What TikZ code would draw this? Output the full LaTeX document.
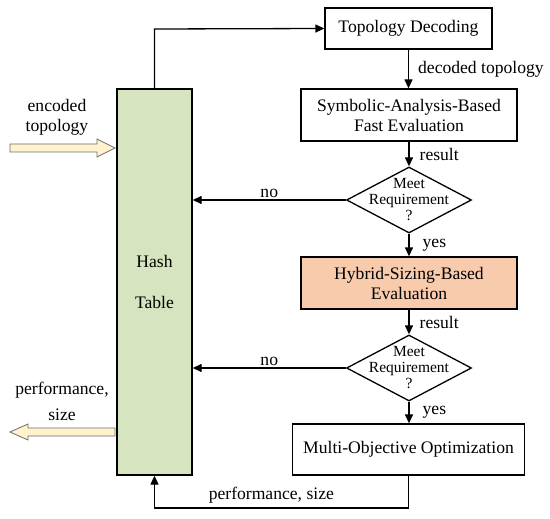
\documentclass[tikz,border=0pt]{standalone}
\usepackage{fontspec}
\setmainfont{Liberation Serif}
\usetikzlibrary{arrows.meta,shapes.geometric}
\definecolor{hashgreen}{HTML}{D6E4BF}
\definecolor{hybfill}{HTML}{F8CBAD}
\definecolor{fatfill}{HTML}{FFF2CC}
\definecolor{fatedge}{HTML}{6E6E6E}
\begin{document}
\begin{tikzpicture}[x=1pt,y=-1pt,
  every node/.style={font=\fontsize{17.6}{20}\selectfont},
  procbox/.style={draw,line width=1.3pt,rectangle,align=center,inner sep=0pt},
  decbox/.style={draw,line width=1.3pt,diamond,inner sep=0pt,minimum width=125pt,minimum height=66pt},
  dectext/.style={align=center,inner sep=0pt,font=\fontsize{15.5}{16}\selectfont},
  conn/.style={line width=1.3pt,-{Triangle[length=9pt,width=8pt]}},
  lbl/.style={inner sep=1pt},
  fatarrow/.style={draw=fatedge,fill=fatfill,line width=0.8pt}]
\useasboundingbox (0,0) rectangle (550,519);

% boxes
\node[procbox,minimum width=167pt,minimum height=41pt] (td) at (408.5,28.5) {Topology Decoding};
\node[procbox,minimum width=216pt,minimum height=52pt] (sym) at (409,115) {Symbolic-Analysis-Based\\Fast Evaluation};
\node[decbox] (d1) at (409,200) {};
\node[dectext] at (d1.center) {Meet\\Requirement\\?};
\node[procbox,fill=hybfill,minimum width=216pt,minimum height=52pt] (hyb) at (409,283) {Hybrid-Sizing-Based\\Evaluation};
\node[decbox] (d2) at (409,368) {};
\node[dectext] at (d2.center) {Meet\\Requirement\\?};
\node[procbox,minimum width=232pt,minimum height=51pt] (mo) at (408.5,449.5) {Multi-Objective Optimization};
\node[procbox,fill=hashgreen,minimum width=75pt,minimum height=386pt] (hash) at (154.5,282) {Hash\\[21pt]Table};

% connectors
\coordinate (topc) at (154.5,29);
\draw[conn] (hash.north) -- (topc) -- (td.west);
\draw[conn] (td.south) -- node[lbl,right=8pt] {decoded topology} (td.south |- sym.north);
\draw[conn] (sym.south) -- node[lbl,right=9pt] {result} (d1.north);
\draw[conn] (d1.west) -- node[lbl,above=1pt] {no} (hash.east |- d1.west);
\draw[conn] (d1.south) -- node[lbl,right=12pt] {yes} (hyb.north);
\draw[conn] (hyb.south) -- node[lbl,right=9pt] {result} (d2.north);
\draw[conn] (d2.west) -- node[lbl,above=1pt] {no} (hash.east |- d2.west);
\draw[conn] (d2.south) -- node[lbl,right=12pt] {yes} (d2.south |- mo.north);
\coordinate (botc) at (408.5,508);
\draw[conn] (mo.south) -- (botc) -| node[lbl,pos=0.27,above=3pt] {performance, size} (hash.south);

% fat arrows
\coordinate (inTail) at (10,148);
\coordinate (inTip) at (115,148);
\draw[fatarrow] (inTail) ++(0,-4) -- (97,144) -- (97,139) -- (inTip) -- (97,157) -- (97,152) -- (10,152) -- cycle;
\node[align=center] (enc) at (57,117) {encoded\\topology};
\coordinate (outTip) at (10,432);
\draw[fatarrow] (outTip) -- (28,424) -- (28,428) -- (115,428) -- (115,436) -- (28,436) -- (28,440) -- cycle;
\node[align=center] (perf) at (62,401) {performance,\\[6pt]size};
\end{tikzpicture}
\end{document}
